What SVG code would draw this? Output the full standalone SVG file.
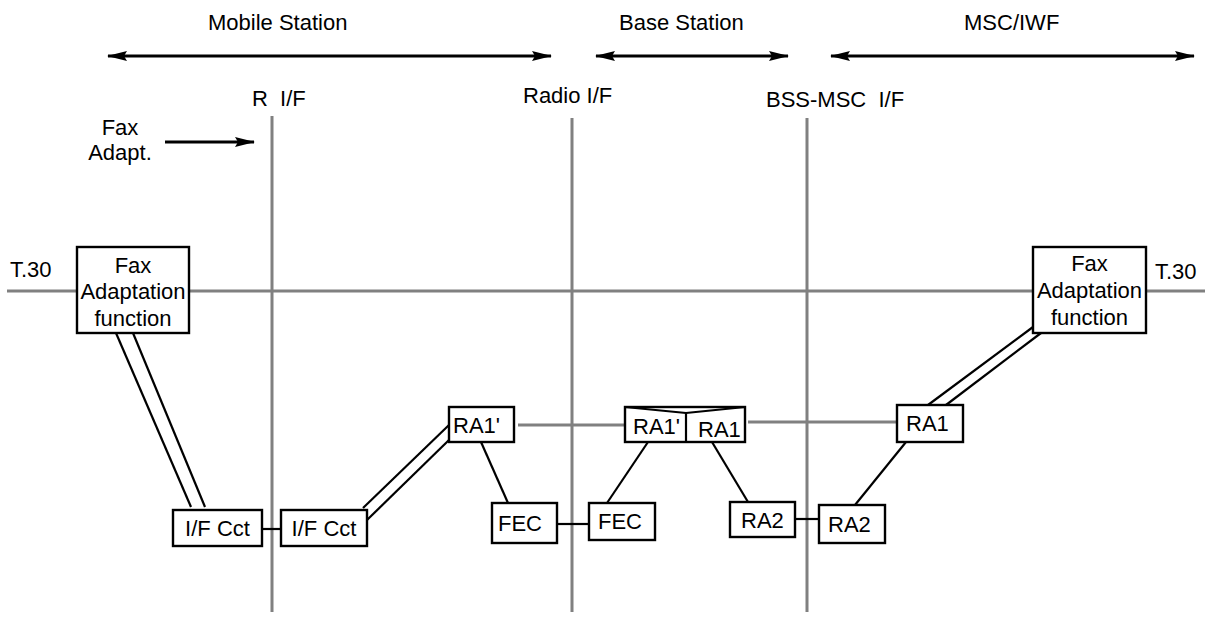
<svg xmlns="http://www.w3.org/2000/svg" width="1211" height="617" viewBox="0 0 1211 617">
<defs>
<style>
text{font-family:"Liberation Sans",Arial,sans-serif;font-size:22px;fill:#000}
.g{stroke:#808080;stroke-width:3;fill:none}
.box{fill:#fff;stroke:#000;stroke-width:2.4}
.c{stroke:#000;stroke-width:2.2;fill:none}
.arr{stroke:#000;stroke-width:3;fill:none}
.mid{text-anchor:middle}
</style>
<marker id="ah" viewBox="0 0 20 10" refX="19" refY="5" markerWidth="21" markerHeight="10" markerUnits="userSpaceOnUse" orient="auto-start-reverse">
<path d="M0,0 L20,5 L0,10 L3,5 Z" fill="#000"/>
</marker>
</defs>
<rect width="1211" height="617" fill="#fff"/>

<g id="section-arrows">
<line class="arr" x1="108" y1="56" x2="551" y2="56" marker-start="url(#ah)" marker-end="url(#ah)"/>
<line class="arr" x1="596" y1="56" x2="788" y2="56" marker-start="url(#ah)" marker-end="url(#ah)"/>
<line class="arr" x1="831" y1="56" x2="1194" y2="56" marker-start="url(#ah)" marker-end="url(#ah)"/>
<line class="arr" x1="165" y1="142" x2="254" y2="142" marker-end="url(#ah)"/>
</g>

<g id="labels">
<text x="208" y="30">Mobile Station</text>
<text x="619" y="30">Base Station</text>
<text x="964" y="30">MSC/IWF</text>
<text x="252" y="106" xml:space="preserve">R  I/F</text>
<text x="523" y="103">Radio I/F</text>
<text x="766" y="107" xml:space="preserve">BSS-MSC  I/F</text>
<text x="120" y="135" class="mid">Fax</text>
<text x="120" y="160" class="mid">Adapt.</text>
<text x="10" y="277">T.30</text>
<text x="1155" y="279">T.30</text>
</g>

<g id="interfaces">
<line class="g" x1="272" y1="116" x2="272" y2="612"/>
<line class="g" x1="572" y1="118" x2="572" y2="612"/>
<line class="g" x1="807" y1="118" x2="807" y2="612"/>
<line class="g" x1="7" y1="291" x2="1205" y2="291"/>
</g>

<g id="connectors">
<line class="g" x1="518" y1="425" x2="625" y2="425"/>
<line class="g" x1="748" y1="422" x2="897" y2="422"/>
<line class="c" x1="116" y1="333" x2="191" y2="507"/>
<line class="c" x1="133" y1="333" x2="205" y2="507"/>
<line class="c" x1="262" y1="529" x2="281" y2="529"/>
<line class="c" x1="363" y1="508" x2="449" y2="425"/>
<line class="c" x1="367" y1="520" x2="449" y2="440"/>
<line class="c" x1="481" y1="442" x2="508" y2="503"/>
<line class="c" x1="557" y1="524" x2="589" y2="524"/>
<line class="c" x1="648" y1="442" x2="607" y2="503"/>
<line class="c" x1="712" y1="442" x2="748" y2="502"/>
<line class="c" x1="795" y1="519" x2="819" y2="519"/>
<line class="c" x1="906" y1="442" x2="855" y2="505"/>
<line class="c" x1="928" y1="405" x2="1033" y2="327"/>
<line class="c" x1="946" y1="405" x2="1041" y2="333"/>
</g>

<g id="fax-left">
<rect class="box" x="77" y="247" width="112" height="86"/>
<text x="133" y="273" class="mid">Fax</text>
<text x="133" y="299" class="mid">Adaptation</text>
<text x="133" y="326" class="mid">function</text>
</g>

<g id="fax-right">
<rect class="box" x="1033" y="247" width="113" height="86"/>
<text x="1089.5" y="271" class="mid">Fax</text>
<text x="1089.5" y="298" class="mid">Adaptation</text>
<text x="1089.5" y="325" class="mid">function</text>
</g>

<g id="ifcct-left">
<rect class="box" x="173" y="510" width="89" height="36"/>
<text x="217.5" y="536" class="mid">I/F Cct</text>
</g>

<g id="ifcct-right">
<rect class="box" x="281" y="510" width="86" height="36"/>
<text x="324" y="536" class="mid">I/F Cct</text>
</g>

<g id="ra1p-ms">
<rect class="box" x="449" y="407" width="65" height="35"/>
<text x="453" y="433">RA1'</text>
</g>

<g id="fec-ms">
<rect class="box" x="492" y="503" width="65" height="40"/>
<text x="498" y="531">FEC</text>
</g>

<g id="fec-bs">
<rect class="box" x="589" y="503" width="66" height="37"/>
<text x="598" y="529">FEC</text>
</g>

<g id="ra1-bs">
<rect class="box" x="625" y="407" width="120" height="35"/>
<polyline class="c" points="625,407 686,413 745,407"/>
<line class="c" x1="686" y1="413" x2="686" y2="442"/>
<text x="633" y="434">RA1'</text>
<text x="698" y="437">RA1</text>
</g>

<g id="ra2-bs">
<rect class="box" x="730" y="502" width="65" height="35"/>
<text x="741" y="528">RA2</text>
</g>

<g id="ra1-msc">
<rect class="box" x="897" y="405" width="66" height="37"/>
<text x="906" y="431">RA1</text>
</g>

<g id="ra2-msc">
<rect class="box" x="819" y="505" width="66" height="38"/>
<text x="828" y="532">RA2</text>
</g>
</svg>
